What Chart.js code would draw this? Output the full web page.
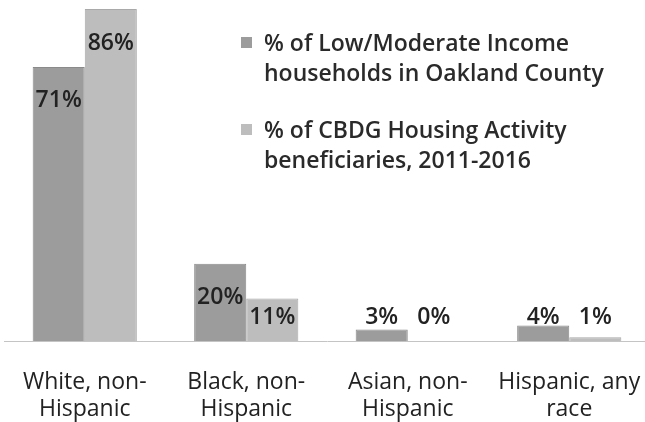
<!DOCTYPE html>
<html>
<head>
<meta charset="utf-8">
<script src="https://cdn.jsdelivr.net/npm/chart.js@4/dist/chart.umd.min.js"></script>
<style>
  html, body { margin: 0; padding: 0; background: #fff; overflow: hidden; }
  #wrap { position: relative; width: 650px; height: 422px; }
  #legend {
    position: absolute; left: 241px; top: 27px; width: 400px;
    font-family: 'Open Sans', sans-serif; font-weight: 600;
    font-size: 23px; line-height: 30px; color: #2a2a2a;
  }
  #legend .item { position: relative; padding-left: 23px; margin-bottom: 27px; }
  #legend .box { position: absolute; left: 0; top: 10px; width: 11px; height: 11px; }
</style>
</head>
<body>
<div id="wrap">
  <canvas id="raceChart" width="650" height="422"></canvas>
  <div id="legend"></div>
</div>
<script>
const categories = [
  ['White, non-', 'Hispanic'],
  ['Black, non-', 'Hispanic'],
  ['Asian, non-', 'Hispanic'],
  ['Hispanic, any', 'race']
];
const seriesNames = [
  '% of Low/Moderate Income households in Oakland County',
  '% of CBDG Housing Activity beneficiaries, 2011-2016'
];
const lowModIncome = [71, 20, 3, 4];
const cdbgBeneficiaries = [86, 11, 0, 1];
const fills = ['#9c9c9c', '#bdbdbd'];
const edges = ['#8a8a8a', '#a9a9a9'];

// percentage labels: inside the top of tall bars, above short ones
const valueLabels = {
  id: 'valueLabels',
  afterDatasetsDraw(chart) {
    const { ctx, scales } = chart;
    const base = scales.y.getPixelForValue(0);
    ctx.save();
    ctx.font = '600 23px "Open Sans", sans-serif';
    ctx.fillStyle = '#222';
    ctx.textAlign = 'center';
    ctx.textBaseline = 'middle';
    chart.data.datasets.forEach((ds, i) => {
      chart.getDatasetMeta(i).data.forEach((bar, j) => {
        const top = scales.y.getPixelForValue(ds.data[j]);
        const y = Math.min(top + 34, base - 24);
        ctx.fillText(ds.data[j] + '%', bar.x, y);
      });
    });
    ctx.restore();
  }
};

const ctx = document.getElementById('raceChart').getContext('2d');
const chart = new Chart(ctx, {
  type: 'bar',
  data: {
    labels: categories,
    datasets: [
      { label: seriesNames[0], data: lowModIncome, backgroundColor: fills[0], borderColor: edges[0], borderWidth: 1 },
      { label: seriesNames[1], data: cdbgBeneficiaries, backgroundColor: fills[1], borderColor: edges[1], borderWidth: 1 }
    ]
  },
  options: {
    responsive: false,
    animation: false,
    layout: { padding: { left: 4, right: 0, top: 9, bottom: 0 } },
    datasets: { bar: { categoryPercentage: 0.645, barPercentage: 1 } },
    scales: {
      x: {
        grid: { display: false },
        border: { display: true, color: '#c4c4c4', dash: [2, 2] },
        ticks: {
          color: '#222',
          padding: 20,
          font: { family: '"Open Sans", sans-serif', size: 23, lineHeight: 1.17 },
          maxRotation: 0
        },
        afterFit(scale) {
          scale.height = 81;
          scale.paddingLeft = 0;
          scale.paddingRight = 0;
        }
      },
      y: {
        display: false,
        min: 0,
        max: 86
      }
    },
    plugins: {
      legend: { display: false },
      tooltip: { enabled: false }
    }
  },
  plugins: [valueLabels]
});

document.getElementById('legend').innerHTML = chart.data.datasets.map((ds, i) =>
  `<div class="item"><span class="box" style="background:${fills[i]}"></span>${ds.label}</div>`
).join('');
</script>
</body>
</html>
